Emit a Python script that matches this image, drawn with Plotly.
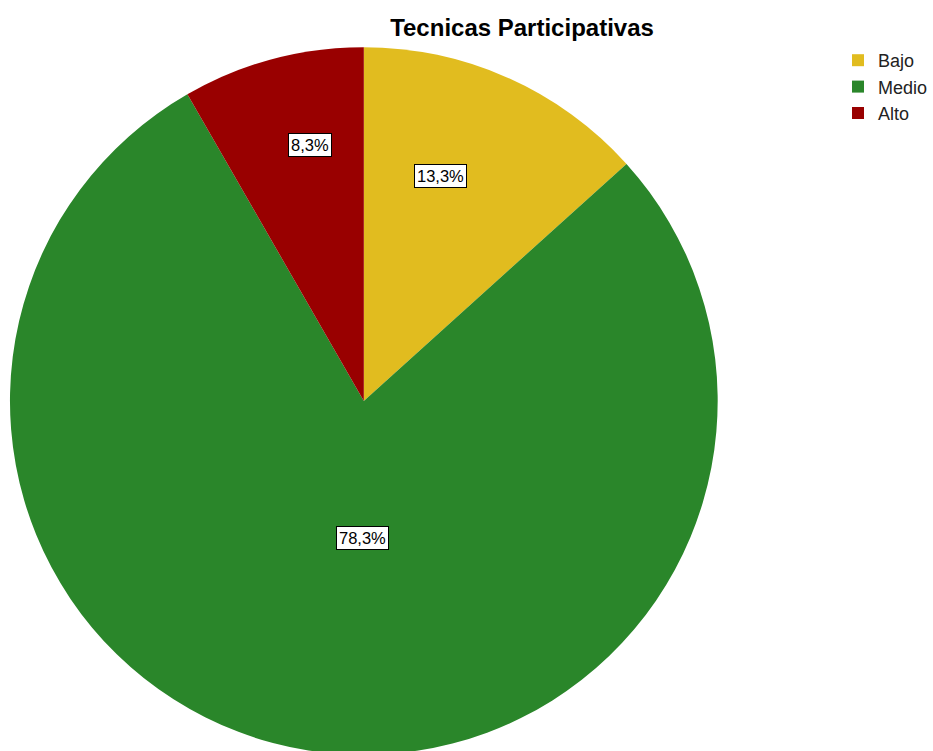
import plotly.graph_objects as go

categories = ["Bajo", "Medio", "Alto"]
percentages = [13.3, 78.3, 8.3]
colors = ["#E1BC1F", "#2A862A", "#990000"]

# figure slightly taller than the window: the pie runs past the bottom edge
W, H = 933, 760

fig = go.Figure()
fig.add_trace(go.Pie(
    labels=categories,
    values=percentages,
    sort=False,
    direction="clockwise",
    rotation=0,
    marker=dict(colors=colors, line=dict(width=0)),
    textinfo="none",
    hoverinfo="label+percent",
    domain=dict(x=[10 / W, 720 / W], y=[1 - 756 / H, 1 - 46 / H]),
))

# boxed percentage labels (text from data)
label_pos = {"Alto": (311, 145), "Bajo": (442, 176), "Medio": (364, 538)}
annotations = []
for cat, val in zip(categories, percentages):
    px, py = label_pos[cat]
    annotations.append(dict(
        x=px / W, y=1 - py / H, xref="paper", yref="paper",
        text=f"{val:.1f}%".replace(".", ","),
        showarrow=False,
        font=dict(family="Liberation Sans, Arial", size=16.5, color="black"),
        bgcolor="white", bordercolor="black", borderwidth=1, borderpad=2,
        xanchor="center", yanchor="middle",
    ))

fig.update_layout(
    width=W, height=H,
    margin=dict(l=0, r=0, t=0, b=0),
    paper_bgcolor="white",
    plot_bgcolor="white",
    title=dict(
        text="<b>Tecnicas Participativas</b>",
        x=522 / W, xanchor="center", y=1 - 28 / H, yanchor="middle",
        font=dict(family="Liberation Sans, Arial", size=24, color="black"),
    ),
    legend=dict(
        x=841 / W, y=1 - 42 / H, xanchor="left", yanchor="top",
        font=dict(family="Liberation Sans, Arial", size=18, color="#222222"),
        itemwidth=30, tracegroupgap=0,
        bgcolor="rgba(0,0,0,0)",
    ),
    annotations=annotations,
)

fig.write_html(
    "out.html",
    config={"displayModeBar": False},
    post_script="document.body.style.margin='0';document.body.style.overflow='hidden';",
)
